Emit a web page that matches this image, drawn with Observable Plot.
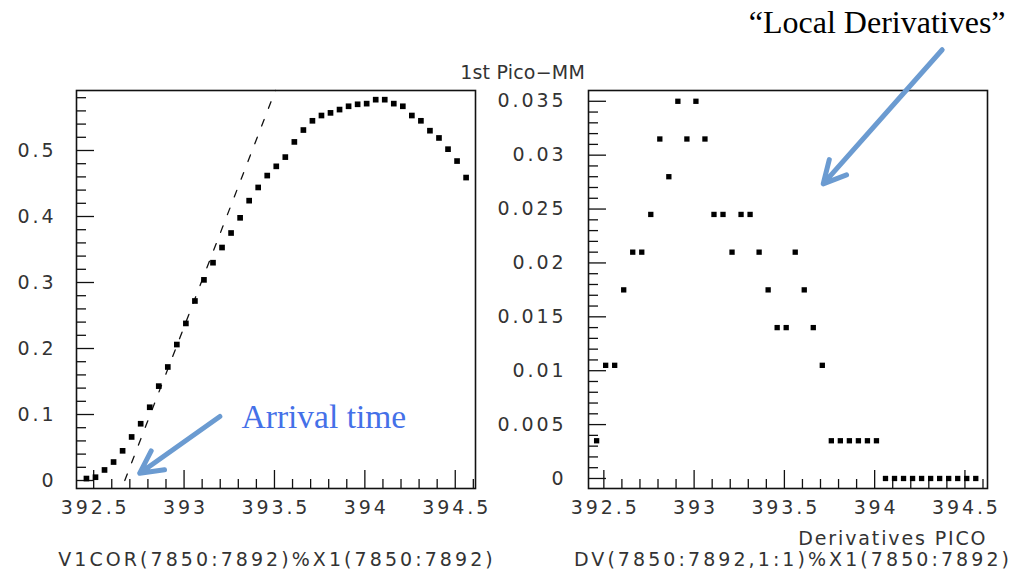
<!DOCTYPE html>
<html><head><meta charset="utf-8">
<script src="https://cdn.jsdelivr.net/npm/d3@7"></script>
<script src="https://cdn.jsdelivr.net/npm/@observablehq/plot@0.6"></script>
<style>
html,body{margin:0;padding:0;background:#fff;}
#wrap{position:relative;width:1025px;height:581px;display:flex;overflow:hidden;}
</style></head><body><div id="wrap"></div>
<script>
// time bins (X1, 7850:7892)
const times = [392.46, 392.51, 392.56, 392.61, 392.66, 392.71, 392.76, 392.81, 392.86, 392.91,
  392.96, 393.01, 393.06, 393.11, 393.16, 393.21, 393.26, 393.31, 393.36, 393.41,
  393.46, 393.51, 393.56, 393.61, 393.66, 393.71, 393.76, 393.81, 393.86, 393.91,
  393.96, 394.01, 394.06, 394.11, 394.16, 394.21, 394.26, 394.31, 394.36, 394.41,
  394.46, 394.51, 394.56];
// V1COR(7850:7892)
const v1cor = [0.003, 0.005, 0.016, 0.028, 0.045, 0.066, 0.086, 0.111, 0.143, 0.172,
  0.206, 0.238, 0.272, 0.304, 0.330, 0.353, 0.375, 0.398, 0.424, 0.444,
  0.462, 0.476, 0.490, 0.513, 0.531, 0.545, 0.553, 0.557, 0.562, 0.567,
  0.570, 0.571, 0.577, 0.577, 0.571, 0.567, 0.553, 0.545, 0.530, 0.519,
  0.502, 0.484, 0.459];
// DV(7850:7892,1:1) local derivatives
const dv = [0.0035, 0.0105, 0.0105, 0.0175, 0.021, 0.021, 0.0245, 0.0315, 0.028, 0.035,
  0.0315, 0.035, 0.0315, 0.0245, 0.0245, 0.021, 0.0245, 0.0245, 0.021, 0.0175,
  0.014, 0.014, 0.021, 0.0175, 0.014, 0.0105, 0.0035, 0.0035, 0.0035, 0.0035,
  0.0035, 0.0035, 0, 0, 0, 0, 0, 0, 0, 0,
  0, 0, 0];
// tangent line (arrival time fit)
const fitX = [392.672, 393.505];
const fitY = [0, 0.591];
// ticks
const xMajor = [392.5, 393, 393.5, 394, 394.5];
const xMinor = [392.6, 392.7, 392.8, 392.9, 393.1, 393.2, 393.3, 393.4, 393.6, 393.7, 393.8, 393.9, 394.1, 394.2, 394.3, 394.4, 394.6];
const leftYMajor = [0, 0.1, 0.2, 0.3, 0.4, 0.5];
const leftYMinor = [0.02, 0.04, 0.06, 0.08, 0.12, 0.14, 0.16, 0.18, 0.22, 0.24, 0.26, 0.28, 0.32, 0.34, 0.36, 0.38, 0.42, 0.44, 0.46, 0.48, 0.52, 0.54, 0.56, 0.58];
const rightYMajor = [0, 0.005, 0.01, 0.015, 0.02, 0.025, 0.03, 0.035];
const rightYMinor = [0.001, 0.002, 0.003, 0.004, 0.006, 0.007, 0.008, 0.009, 0.011, 0.012, 0.013, 0.014, 0.016, 0.017, 0.018, 0.019, 0.021, 0.022, 0.023, 0.024, 0.026, 0.027, 0.028, 0.029, 0.031, 0.032, 0.033, 0.034];
// texts
const leftTitle = "V1COR(7850:7892)%X1(7850:7892)";
const rightTitle = "DV(7850:7892,1:1)%X1(7850:7892)";
const rightSub = "Derivatives PICO";
const header = "1st Pico\u2212MM";
// annotations (data coordinates of each panel)
const arrivalArrow = [{x1: 393.198, y1: 0.097, x2: 392.755, y2: 0.0111}];
const arrivalLabel = [{x: 393.318, y: 0.0954, text: "Arrival time"}];
const derivArrow = [{x1: 394.374, y1: 0.03978, x2: 393.715, y2: 0.02734}];
const derivLabel = [{x: 394.725, y: 0.0423, text: "\u201CLocal Derivatives\u201D"}];

const leftData = times.map((t, i) => ({t, v: v1cor[i]}));
const rightData = times.map((t, i) => ({t, v: dv[i]}));
const fitData = fitX.map((x, i) => ({x, y: fitY[i]}));

const H = 581, MT = 90, MB = 93, innerW = 399, innerH = H - MT - MB;
const ink = "#111";
const txt = "#333";
const TS = 2.9; // tick label letter spacing
const baseStyle = {fontFamily: "DejaVu Sans, Verdana, sans-serif", fontSize: "19px", background: "white", color: txt, overflow: "visible"};

function commonMarks(yMajor, yMinor, fmt, yPad) {
  return [
    Plot.tickY(yMinor, {insetRight: innerW - 10, stroke: ink, strokeWidth: 1.3}),
    Plot.tickY(yMajor, {insetRight: innerW - 18, stroke: ink, strokeWidth: 1.3}),
    Plot.tickX(xMinor, {insetTop: innerH - 9, stroke: ink, strokeWidth: 1.3}),
    Plot.tickX(xMajor, {insetTop: innerH - 18, stroke: ink, strokeWidth: 1.3}),
    Plot.axisY({ticks: yMajor, tickSize: 0, tickPadding: yPad, tickFormat: fmt, label: null, fill: txt}),
    Plot.axisX({ticks: xMajor, tickSize: 0, tickPadding: 12, dx: TS / 2, tickFormat: d => String(d), label: null, fill: txt}),
    Plot.frame({stroke: ink, strokeWidth: 1.6})
  ];
}

const left = Plot.plot({
  width: 500, height: H,
  marginLeft: 76, marginRight: 25, marginTop: MT, marginBottom: MB,
  x: {domain: [392.405, 394.612], label: null},
  y: {domain: [-0.0121, 0.5909], label: null},
  style: baseStyle,
  marks: [
    ...commonMarks(leftYMajor, leftYMinor, d => String(d), 20.1),
    Plot.line(fitData, {x: "x", y: "y", stroke: ink, strokeWidth: 1.3, strokeDasharray: "7,12"}),
    Plot.dot(leftData, {x: "t", y: "v", symbol: "square", r: 3.2, fill: "#000", stroke: "none"}),
    Plot.arrow(arrivalArrow, {x1: "x1", y1: "y1", x2: "x2", y2: "y2", stroke: "#6b9bd1", strokeWidth: 5, headLength: 7.5, headAngle: 55}),
    Plot.text(arrivalLabel, {x: "x", y: "y", text: "text", textAnchor: "start", lineAnchor: "middle", fill: "#4470e8", fontSize: 33.5, fontFamily: "Liberation Serif, Times New Roman, serif"}),
    Plot.text([leftTitle], {frameAnchor: "bottom", dy: 71, dx: 1.0, lineAnchor: "middle", fill: txt})
  ]
});

const right = Plot.plot({
  width: 525, height: H,
  marginLeft: 88, marginRight: 38, marginTop: MT, marginBottom: MB,
  x: {domain: [392.415, 394.625], label: null},
  y: {domain: [-0.00093, 0.036], label: null},
  style: baseStyle,
  marks: [
    ...commonMarks(rightYMajor, rightYMinor, d => String(+d.toFixed(3)), 22.1),
    Plot.dot(rightData, {x: "t", y: "v", symbol: "square", r: 3.0, fill: "#000", stroke: "none"}),
    Plot.arrow(derivArrow, {x1: "x1", y1: "y1", x2: "x2", y2: "y2", stroke: "#6b9bd1", strokeWidth: 5, headLength: 7.5, headAngle: 55}),
    Plot.text(derivLabel, {x: "x", y: "y", text: "text", textAnchor: "end", lineAnchor: "middle", fill: "#000", fontSize: 32, fontFamily: "Liberation Serif, Times New Roman, serif"}),
    Plot.text([rightTitle], {frameAnchor: "bottom", dy: 71, dx: 5.0, lineAnchor: "middle", fill: txt}),
    Plot.text([rightSub], {frameAnchor: "bottom-right", dy: 50.5, dx: -0.1, textAnchor: "end", lineAnchor: "middle", fill: txt}),
    Plot.text([header], {frameAnchor: "top-left", dy: -18, dx: -65.9, textAnchor: "middle", lineAnchor: "middle", fill: txt})
  ]
});

// letter spacing to mimic the wide plotting font
const spacing = new Map([[leftTitle, 3.07], [rightTitle, 3.07], [rightSub, 1.87], [header, 0.2]]);
for (const svg of [left, right]) {
  d3.select(svg).selectAll("text").each(function () {
    const t = this.textContent;
    if (spacing.has(t)) this.style.letterSpacing = spacing.get(t) + "px";
  });
  d3.select(svg).selectAll('g[aria-label="y-axis tick label"] text, g[aria-label="x-axis tick label"] text')
    .style("letter-spacing", TS + "px");
}

const wrap = document.getElementById("wrap");
wrap.appendChild(left);
wrap.appendChild(right);
</script></body></html>
